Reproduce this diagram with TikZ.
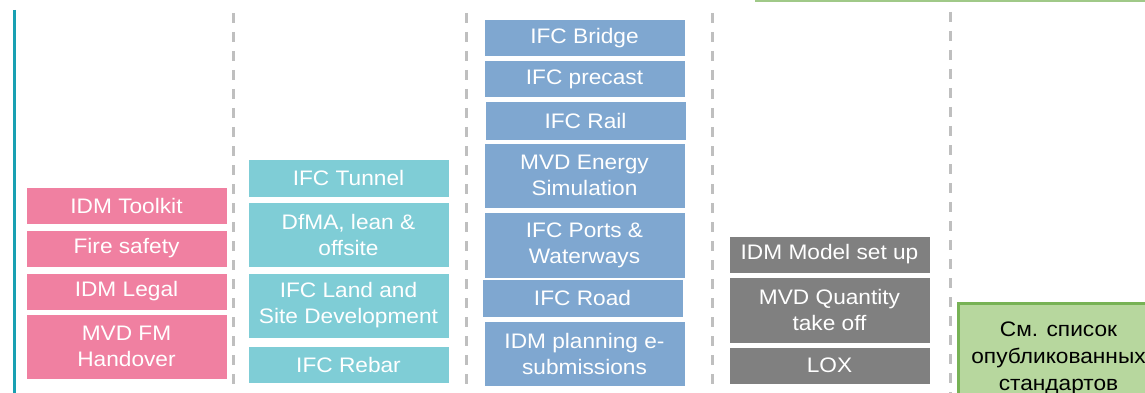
\documentclass[tikz,border=0pt]{standalone}
\usepackage{fontspec}
\setmainfont{Liberation Sans}[FakeStretch=1.08]
\usepackage{tikz}
\usepackage{xcolor}
\definecolor{idmpink}{RGB}{240,128,161}
\definecolor{ifcteal}{RGB}{127,205,214}
\definecolor{ifcblue}{RGB}{127,167,208}
\definecolor{mvdgray}{RGB}{128,128,128}
\definecolor{stdgreen}{RGB}{183,215,158}
\definecolor{stdborder}{RGB}{119,178,85}
\definecolor{axisteal}{RGB}{24,160,178}
\tikzset{
  stdbox/.style={ % one standard in a column
    rectangle, draw=white, line width=1pt,
    minimum width=201pt, minimum height=37pt,
    inner sep=0pt, align=center, text=white,
    font=\fontsize{21}{26}\selectfont
  },
  tall/.style={minimum height=65pt},
  pinkbox/.style={stdbox, fill=idmpink},
  tealbox/.style={stdbox, fill=ifcteal},
  bluebox/.style={stdbox, fill=ifcblue},
  graybox/.style={stdbox, fill=mvdgray},
  greenbox/.style={ % link to the published list
    rectangle, draw=stdborder, line width=3pt, fill=stdgreen,
    minimum width=200pt, minimum height=110pt,
    inner sep=0pt, align=center, text=black,
    font=\fontsize{21}{27}\selectfont
  },
  divider/.style={
    gray!50, line width=3pt, dash pattern=on 10pt off 9pt
  }
}
\begin{document}
\begin{tikzpicture}[x=1pt, y=-1pt]
  \useasboundingbox (0,0) rectangle (1145,393);

  % frame lines
  \draw[axisteal, line width=3pt] (14,10) -- (14,393);
  \draw[stdborder!70, line width=2pt] (755,1) -- (1145,1);
  \draw[divider] (233,13) -- (233,393);
  \draw[divider] (466,13) -- (466,393);
  \draw[divider] (712,13) -- (712,393);
  \draw[divider] (950,12) -- (950,393);

  % first column
  \node[pinkbox] (toolkit) at (126.5,205.5) {IDM Toolkit};
  \node[pinkbox] (fire) at (126.5,248.5) {Fire safety};
  \node[pinkbox] (legal) at (126.5,291.5) {IDM Legal};
  \node[pinkbox, tall] (fm) at (126.5,346.5) {MVD FM\\Handover};

  % second column
  \node[tealbox, minimum height=38pt] (tunnel) at (348.5,178) {IFC Tunnel};
  \node[tealbox, tall] (dfma) at (348.5,234.5) {DfMA, lean \&\\offsite};
  \node[tealbox, tall] (land) at (348.5,305.5) {IFC Land and\\Site Development};
  \node[tealbox] (rebar) at (348.5,364.5) {IFC Rebar};

  % third column
  \node[bluebox] (bridge) at (584.5,38.5) {IFC Bridge};
  \node[bluebox] (precast) at (584.5,79.5) {IFC precast};
  \node[bluebox, minimum height=38pt] (rail) at (585.5,121) {IFC Rail};
  \node[bluebox, tall] (energy) at (584.5,175.5) {MVD Energy\\Simulation};
  \node[bluebox, minimum height=66pt] (ports) at (584.5,245) {IFC Ports \&\\Waterways};
  \node[bluebox, minimum height=38pt] (road) at (582.5,298) {IFC Road};
  \node[bluebox, tall] (planning) at (584.5,353.5) {IDM planning e-\\submissions};

  % fourth column
  \node[graybox] (setup) at (829.5,254.5) {IDM Model set up};
  \node[graybox, minimum height=66pt] (quantity) at (829.5,310) {MVD Quantity\\take off};
  \node[graybox] (lox) at (829.5,365.5) {LOX};

  % published standards
  \node[greenbox, anchor=north west] (published) at (957,302)
    {См. список\\опубликованных\\стандартов};
\end{tikzpicture}
\end{document}
